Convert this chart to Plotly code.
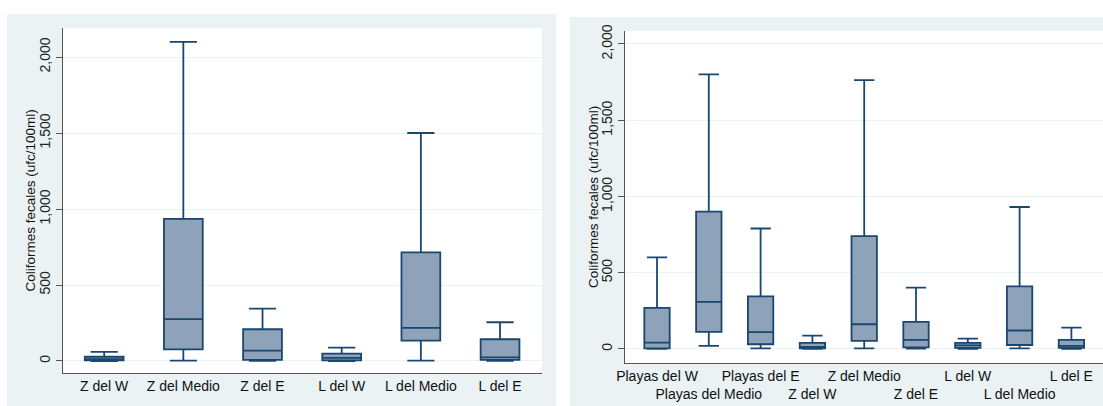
import plotly.graph_objects as go

# ---- data (left panel) ----
cats_left = ["Z del W", "Z del Medio", "Z del E", "L del W", "L del Medio", "L del E"]
min_left = [0, 2, 1, 0, 2, 1]
q1_left = [5, 77, 7, 4, 134, 7]
med_left = [12, 275, 68, 20, 218, 24]
q3_left = [28, 935, 209, 48, 715, 143]
max_left = [60, 2100, 345, 88, 1500, 255]

# ---- data (right panel) ----
cats_right = ["Playas del W", "Playas del Medio", "Playas del E", "Z del W", "Z del Medio",
              "Z del E", "L del W", "L del Medio", "L del E"]
min_right = [0, 20, 4, 0, 4, 2, 0, 4, 0]
q1_right = [4, 112, 31, 4, 53, 11, 7, 26, 7]
med_right = [42, 309, 110, 13, 162, 59, 24, 121, 20]
q3_right = [270, 900, 345, 40, 740, 178, 40, 410, 59]
max_right = [600, 1800, 790, 88, 1763, 402, 68, 931, 140]

y_tickvals = [0, 500, 1000, 1500, 2000]
y_ticktext = ["0", "500", "1,000", "1,500", "2,000"]
y_title = "Coliformes fecales (ufc/100ml)"

W, H = 1103, 406
FONT = "Liberation Sans, Arial, sans-serif"
BG = "#EAF2F3"
FILL = "#8EA3B9"
LINE = "#1A476F"
AX = "#555555"


def px(x):
    return x / W


def py(y):
    return (H - y) / H


fig = go.Figure()

fig.add_trace(go.Box(
    x=cats_left, q1=q1_left, median=med_left, q3=q3_left,
    lowerfence=min_left, upperfence=max_left,
    fillcolor=FILL, line=dict(color=LINE, width=1.8),
    whiskerwidth=0.7, width=0.49, boxpoints=False,
    xaxis="x", yaxis="y", showlegend=False, hoverinfo="skip"))

fig.add_trace(go.Box(
    x=cats_right, q1=q1_right, median=med_right, q3=q3_right,
    lowerfence=min_right, upperfence=max_right,
    fillcolor=FILL, line=dict(color=LINE, width=1.8),
    whiskerwidth=0.8, width=0.49, boxpoints=False,
    xaxis="x2", yaxis="y2", showlegend=False, hoverinfo="skip"))

right_ticktext = [c if i % 2 == 0 else "<br>" + c for i, c in enumerate(cats_right)]

common_y = dict(
    tickvals=y_tickvals, ticktext=y_ticktext, tickangle=-90, automargin=False,
    showgrid=True, gridcolor=BG, gridwidth=1, zeroline=False,
    showline=True, linecolor=AX, linewidth=1,
    ticks="outside", ticklen=6, tickcolor=AX, tickwidth=1,
    tickfont=dict(family=FONT, size=14, color="#222222"),
)
common_x = dict(
    type="category", showgrid=False, zeroline=False, tickangle=0, automargin=False,
    showline=True, linecolor=AX, linewidth=1, ticks="",
    tickfont=dict(family=FONT, size=14, color="#111111"),
)

fig.update_layout(
    width=W, height=H, autosize=False,
    margin=dict(l=0, r=0, t=0, b=0, pad=0),
    paper_bgcolor="white", plot_bgcolor="rgba(0,0,0,0)",
    showlegend=False,
    xaxis=dict(domain=[px(63), px(542)], range=[-0.52, 5.53], anchor="y", **common_x),
    yaxis=dict(domain=[py(373), py(28)], range=[-79, 2191], anchor="x", **common_y),
    xaxis2=dict(domain=[px(625), 1.0], range=[-0.618, 8.61], anchor="y2",
                tickvals=cats_right, ticktext=right_ticktext, **common_x),
    yaxis2=dict(domain=[py(363), py(31)], range=[-92, 2085], anchor="x2", **common_y),
    shapes=[
        dict(type="rect", xref="paper", yref="paper", x0=px(7), x1=px(556), y0=0, y1=py(14),
             fillcolor=BG, line=dict(width=0), layer="below"),
        dict(type="rect", xref="paper", yref="paper", x0=px(570), x1=1.0, y0=0, y1=py(17),
             fillcolor=BG, line=dict(width=0), layer="below"),
        dict(type="rect", xref="paper", yref="paper", x0=px(63), x1=px(542), y0=py(373), y1=py(28),
             fillcolor="white", line=dict(width=0), layer="below"),
        dict(type="rect", xref="paper", yref="paper", x0=px(625), x1=1.0, y0=py(363), y1=py(31),
             fillcolor="white", line=dict(width=0), layer="below"),
    ],
    annotations=[
        dict(text=y_title, xref="paper", yref="paper", x=px(30), y=(py(373) + py(28)) / 2,
             textangle=-90, showarrow=False, xanchor="center", yanchor="middle",
             font=dict(family=FONT, size=13.5, color="#111111")),
        dict(text=y_title, xref="paper", yref="paper", x=px(593), y=(py(363) + py(31)) / 2,
             textangle=-90, showarrow=False, xanchor="center", yanchor="middle",
             font=dict(family=FONT, size=13.5, color="#111111")),
    ],
)

fig.write_html("out.html")
